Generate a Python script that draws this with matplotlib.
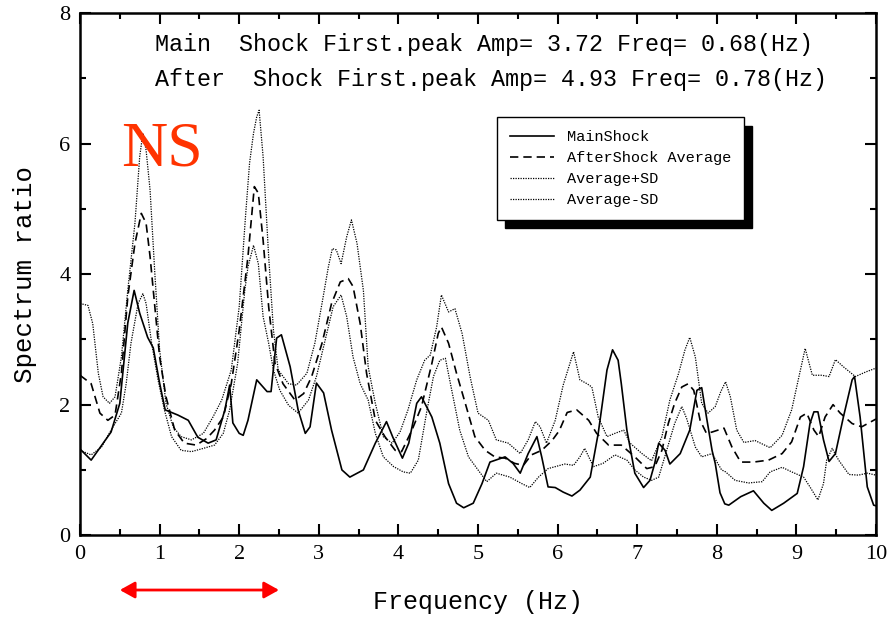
import matplotlib
matplotlib.use("Agg")
import matplotlib.pyplot as plt
from matplotlib.ticker import MultipleLocator

# ---------------- data ----------------
ms_x = [0.0, 0.14, 0.39, 0.5, 0.6, 0.68, 0.75, 0.85, 0.92, 1.0, 1.07, 1.23, 1.36, 1.48, 1.61, 1.71,
        1.82, 1.88, 1.92, 2.0, 2.05, 2.11, 2.22, 2.35, 2.40, 2.47, 2.53, 2.64, 2.74, 2.83, 2.89,
        2.97, 3.06, 3.16, 3.29, 3.39, 3.56, 3.71, 3.85, 3.93, 4.05, 4.13, 4.23, 4.29, 4.42, 4.52,
        4.63, 4.73, 4.82, 4.94, 5.05, 5.15, 5.34, 5.44, 5.53, 5.63, 5.74, 5.80, 5.88, 5.97, 6.07,
        6.18, 6.28, 6.41, 6.51, 6.62, 6.69, 6.76, 6.80, 6.87, 6.97, 7.08, 7.16, 7.22, 7.27, 7.35,
        7.41, 7.54, 7.66, 7.75, 7.81, 7.87, 7.94, 7.98, 8.04, 8.10, 8.15, 8.30, 8.46, 8.59, 8.69,
        8.84, 9.01, 9.09, 9.17, 9.22, 9.27, 9.34, 9.41, 9.49, 9.59, 9.70, 9.73, 9.80, 9.89, 9.97, 10.0]
ms_y = [1.32, 1.15, 1.58, 2.02, 3.25, 3.75, 3.40, 3.03, 2.87, 2.33, 1.92, 1.84, 1.76, 1.50, 1.41, 1.46,
        1.92, 2.30, 1.72, 1.56, 1.53, 1.76, 2.38, 2.20, 2.20, 3.02, 3.07, 2.58, 1.92, 1.56, 1.66,
        2.33, 2.18, 1.61, 1.00, 0.89, 1.00, 1.41, 1.74, 1.50, 1.18, 1.41, 2.02, 2.12, 1.81, 1.41,
        0.79, 0.49, 0.42, 0.49, 0.79, 1.12, 1.20, 1.10, 0.95, 1.25, 1.51, 1.20, 0.74, 0.73, 0.66,
        0.60, 0.69, 0.89, 1.56, 2.53, 2.84, 2.68, 2.32, 1.61, 0.95, 0.73, 0.84, 1.10, 1.41, 1.30,
        1.09, 1.25, 1.61, 2.22, 2.26, 1.81, 1.30, 1.10, 0.65, 0.48, 0.46, 0.59, 0.68, 0.49, 0.38,
        0.49, 0.64, 1.05, 1.71, 1.89, 1.89, 1.46, 1.13, 1.25, 1.81, 2.38, 2.43, 1.81, 0.74, 0.46, 0.45]

av_x = [0.0, 0.14, 0.25, 0.35, 0.44, 0.52, 0.6, 0.69, 0.77, 0.83, 0.88, 0.94, 1.0, 1.08, 1.19, 1.31,
        1.46, 1.59, 1.69, 1.80, 1.90, 2.0, 2.11, 2.19, 2.24, 2.30, 2.37, 2.45, 2.55, 2.70, 2.81,
        2.91, 3.04, 3.16, 3.27, 3.37, 3.43, 3.52, 3.60, 3.71, 3.83, 3.96, 4.04, 4.17, 4.29, 4.42,
        4.50, 4.54, 4.63, 4.73, 4.84, 4.96, 5.09, 5.21, 5.34, 5.46, 5.57, 5.67, 5.80, 5.93, 6.02,
        6.12, 6.24, 6.39, 6.49, 6.64, 6.80, 6.97, 7.12, 7.22, 7.31, 7.39, 7.47, 7.56, 7.64, 7.71,
        7.79, 7.87, 7.94, 8.09, 8.19, 8.30, 8.46, 8.65, 8.82, 8.94, 9.05, 9.13, 9.22, 9.28, 9.36,
        9.46, 9.55, 9.70, 9.82, 10.0]
av_y = [2.45, 2.32, 1.87, 1.76, 1.84, 2.48, 3.65, 4.47, 4.93, 4.78, 4.27, 3.50, 2.73, 2.12, 1.61, 1.41,
        1.38, 1.48, 1.61, 1.81, 2.32, 3.14, 4.27, 5.34, 5.24, 4.52, 3.50, 2.63, 2.32, 2.07, 2.17,
        2.43, 2.94, 3.55, 3.88, 3.93, 3.81, 3.24, 2.48, 1.76, 1.51, 1.30, 1.28, 1.61, 1.97, 2.63,
        3.09, 3.19, 2.94, 2.48, 2.02, 1.51, 1.30, 1.20, 1.18, 1.10, 1.07, 1.23, 1.30, 1.45, 1.60,
        1.88, 1.92, 1.76, 1.56, 1.38, 1.38, 1.20, 1.02, 1.05, 1.30, 1.71, 2.02, 2.27, 2.32, 2.22,
        1.76, 1.56, 1.58, 1.64, 1.35, 1.12, 1.12, 1.15, 1.25, 1.43, 1.81, 1.87, 1.61, 1.51, 1.81,
        2.00, 1.87, 1.71, 1.66, 1.78]

up_x = [0.0, 0.1, 0.16, 0.23, 0.29, 0.37, 0.44, 0.52, 0.6, 0.69, 0.75, 0.79, 0.83, 0.88, 0.94, 1.0,
        1.08, 1.17, 1.27, 1.40, 1.55, 1.67, 1.78, 1.90, 2.0, 2.08, 2.13, 2.18, 2.22, 2.25, 2.30,
        2.37, 2.43, 2.49, 2.62, 2.72, 2.85, 2.95, 3.04, 3.12, 3.17, 3.22, 3.28, 3.35, 3.41, 3.48,
        3.56, 3.62, 3.71, 3.81, 3.92, 4.02, 4.12, 4.23, 4.33, 4.40, 4.48, 4.54, 4.63, 4.71, 4.80,
        4.90, 5.0, 5.13, 5.23, 5.38, 5.53, 5.63, 5.72, 5.78, 5.86, 5.97, 6.07, 6.20, 6.28, 6.37,
        6.43, 6.51, 6.62, 6.72, 6.83, 6.91, 7.06, 7.18, 7.31, 7.41, 7.52, 7.60, 7.66, 7.73, 7.81,
        7.89, 7.98, 8.05, 8.11, 8.17, 8.25, 8.34, 8.48, 8.67, 8.82, 8.94, 9.05, 9.11, 9.20, 9.32,
        9.41, 9.49, 9.59, 9.74, 9.87, 10.0]
up_y = [3.55, 3.52, 3.24, 2.48, 2.12, 2.02, 2.12, 2.73, 3.75, 4.78, 5.80, 6.16, 5.90, 5.29, 4.01, 2.84,
        2.02, 1.66, 1.51, 1.46, 1.56, 1.81, 2.07, 2.53, 3.50, 4.90, 5.70, 6.16, 6.41, 6.51, 5.80,
        4.27, 3.14, 2.53, 2.32, 2.30, 2.48, 2.94, 3.55, 4.11, 4.39, 4.37, 4.16, 4.57, 4.83, 4.47,
        3.75, 2.58, 2.02, 1.51, 1.41, 1.58, 1.92, 2.38, 2.68, 2.76, 3.19, 3.68, 3.42, 3.47, 3.09,
        2.43, 1.87, 1.76, 1.46, 1.41, 1.25, 1.46, 1.74, 1.66, 1.41, 1.76, 2.30, 2.81, 2.38, 2.32,
        2.27, 1.81, 1.51, 1.56, 1.61, 1.41, 1.25, 1.14, 1.51, 2.07, 2.48, 2.84, 3.03, 2.73, 2.02,
        1.87, 1.97, 2.20, 2.35, 2.12, 1.61, 1.42, 1.45, 1.34, 1.53, 1.92, 2.53, 2.86, 2.45, 2.45,
        2.43, 2.69, 2.58, 2.43, 2.50, 2.56]

lo_x = [0.0, 0.14, 0.27, 0.39, 0.52, 0.58, 0.64, 0.73, 0.79, 0.83, 0.90, 0.98, 1.06, 1.15, 1.27, 1.40,
        1.55, 1.69, 1.80, 1.88, 1.98, 2.07, 2.11, 2.18, 2.24, 2.30, 2.37, 2.43, 2.51, 2.62, 2.74,
        2.87, 2.97, 3.08, 3.18, 3.28, 3.35, 3.43, 3.52, 3.62, 3.71, 3.81, 3.94, 4.06, 4.15, 4.25,
        4.36, 4.44, 4.52, 4.59, 4.67, 4.77, 4.88, 5.0, 5.11, 5.23, 5.40, 5.55, 5.65, 5.76, 5.88,
        5.97, 6.09, 6.20, 6.28, 6.34, 6.45, 6.57, 6.72, 6.87, 6.97, 7.08, 7.18, 7.27, 7.37, 7.47,
        7.56, 7.62, 7.73, 7.81, 7.94, 8.06, 8.11, 8.23, 8.40, 8.57, 8.67, 8.82, 8.94, 9.09, 9.17,
        9.27, 9.34, 9.38, 9.45, 9.53, 9.66, 9.78, 9.89, 10.0]
lo_y = [1.30, 1.23, 1.35, 1.61, 1.87, 2.32, 2.94, 3.55, 3.70, 3.55, 2.94, 2.38, 1.92, 1.51, 1.30, 1.28,
        1.33, 1.38, 1.56, 1.92, 2.63, 3.75, 4.11, 4.44, 4.16, 3.35, 2.94, 2.53, 2.22, 1.99, 1.87,
        2.07, 2.43, 2.99, 3.50, 3.68, 3.35, 2.73, 2.32, 2.07, 1.56, 1.20, 1.05, 0.97, 0.95, 1.15,
        1.92, 2.43, 2.68, 2.71, 2.22, 1.61, 1.20, 1.00, 0.82, 0.95, 0.89, 0.79, 0.73, 0.89, 1.02,
        1.05, 1.09, 1.07, 1.20, 1.33, 1.05, 1.10, 1.23, 1.15, 1.00, 0.89, 0.84, 0.89, 1.30, 1.71,
        1.97, 1.79, 1.35, 1.20, 1.25, 1.00, 0.97, 0.84, 0.80, 0.82, 0.97, 1.04, 0.97, 0.89, 0.74,
        0.54, 0.79, 1.15, 1.33, 1.15, 0.93, 0.92, 0.95, 0.92]

series_labels = ["MainShock", "AfterShock Average", "Average+SD", "Average-SD"]
x_ticks = [0, 1, 2, 3, 4, 5, 6, 7, 8, 9, 10]
y_ticks = [0, 2, 4, 6, 8]
title_lines = ["Main  Shock First.peak Amp= 3.72 Freq= 0.68(Hz)",
               "After  Shock First.peak Amp= 4.93 Freq= 0.78(Hz)"]
band_range = [0.5, 2.5]

# ---------------- figure ----------------
mono = "Liberation Mono"
serif = "Liberation Serif"

fig = plt.figure(figsize=(8.9, 6.18), dpi=100)
ax = fig.add_axes([0.0899, 0.134, 0.8944, 0.845])

ax.plot(ms_x, ms_y, color="black", lw=1.2, ls="-", label=series_labels[0])
ax.plot(av_x, av_y, color="black", lw=1.2, ls=(0, (5, 3)), label=series_labels[1])
ax.plot(up_x, up_y, color="black", lw=0.9, ls=(0, (1, 1)), label=series_labels[2])
ax.plot(lo_x, lo_y, color="black", lw=0.9, ls=(0, (1, 1)), label=series_labels[3])

ax.set_xlim(0, 10)
ax.set_ylim(0, 8)
ax.set_xticks(x_ticks)
ax.set_yticks(y_ticks)
ax.xaxis.set_minor_locator(MultipleLocator(0.5))
ax.yaxis.set_minor_locator(MultipleLocator(1))
ax.tick_params(which="both", direction="in", top=True, right=True, width=1.5)
ax.tick_params(which="major", length=8, labelsize=16, pad=7)
ax.tick_params(which="minor", length=4)
for lab in ax.get_xticklabels() + ax.get_yticklabels():
    lab.set_fontfamily(serif)
for s in ax.spines.values():
    s.set_linewidth(1.8)

ax.set_xlabel("Frequency (Hz)", fontfamily=mono, fontsize=18, labelpad=19)
ax.set_ylabel("Spectrum ratio", fontfamily=mono, fontsize=18.5, labelpad=16)

ax.text(0.094, 0.939, title_lines[0], transform=ax.transAxes, fontfamily=mono,
        fontsize=16.8, va="center", ha="left")
ax.text(0.094, 0.872, title_lines[1], transform=ax.transAxes, fontfamily=mono,
        fontsize=16.8, va="center", ha="left")

ax.text(0.52, 5.67, "NS", color="#ff3300", fontfamily=serif, fontsize=46,
        ha="left", va="baseline")

ax.annotate("", xy=(band_range[0], -0.105), xytext=(band_range[1], -0.105),
            xycoords=("data", "axes fraction"), textcoords=("data", "axes fraction"),
            annotation_clip=False,
            arrowprops=dict(arrowstyle="<|-|>,head_length=0.9,head_width=0.5",
                            color="red", lw=2, shrinkA=0, shrinkB=0))

leg = ax.legend(loc="upper left", bbox_to_anchor=(0.524, 0.80), frameon=True,
                fancybox=False, edgecolor="black", framealpha=1,
                prop={"family": mono, "size": 11}, handlelength=2.9,
                handletextpad=0.8, borderpad=0.85, labelspacing=0.45,
                borderaxespad=0,
                shadow={"ox": 6, "oy": -6, "facecolor": "black",
                        "edgecolor": "black", "alpha": 1})
leg.get_frame().set_linewidth(1.0)

fig.savefig("out.png", dpi=100)
